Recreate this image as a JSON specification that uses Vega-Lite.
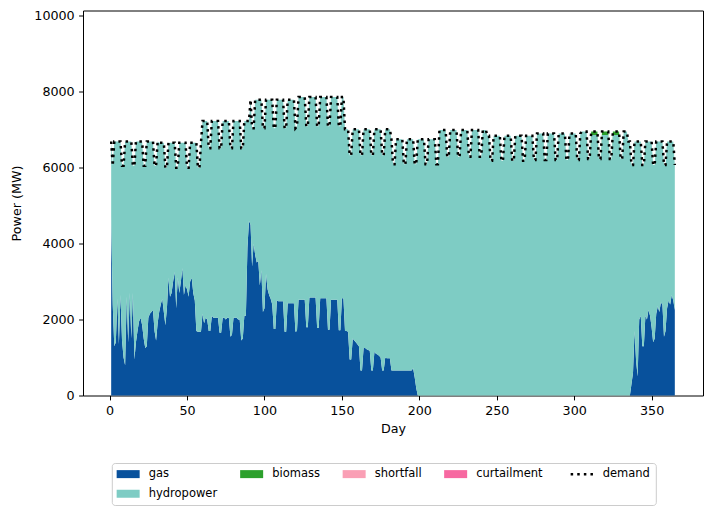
{
  "$schema": "https://vega.github.io/schema/vega-lite/v6.json",
  "width": 620,
  "height": 385,
  "autosize": {"type": "none"},
  "padding": {"left": 83, "top": 10.5, "right": 10, "bottom": 118.5},
  "background": "white",
  "config": {
    "font": "DejaVu Sans",
    "view": {"stroke": "black", "strokeWidth": 1},
    "axis": {
      "domain": false,
      "grid": false,
      "tickColor": "black",
      "tickSize": 4.4,
      "tickWidth": 1,
      "labelFont": "DejaVu Sans",
      "labelFontSize": 12.7,
      "labelColor": "black",
      "labelPadding": 4.4,
      "titleFont": "DejaVu Sans",
      "titleFontSize": 12.7,
      "titleFontWeight": "normal",
      "titleColor": "black"
    }
  },
  "datasets": {
    "energy": [
      {"day":1,"gas":4700,"hydropower":1990,"biomass":0,"demand":6690},
      {"day":2,"gas":2400,"hydropower":3650,"biomass":0,"demand":6050},
      {"day":3,"gas":1300,"hydropower":5390,"biomass":0,"demand":6690},
      {"day":4,"gas":1400,"hydropower":5290,"biomass":0,"demand":6690},
      {"day":5,"gas":2550,"hydropower":4140,"biomass":0,"demand":6690},
      {"day":6,"gas":1350,"hydropower":5340,"biomass":0,"demand":6690},
      {"day":7,"gas":2650,"hydropower":4040,"biomass":0,"demand":6690},
      {"day":8,"gas":1450,"hydropower":4600,"biomass":0,"demand":6050},
      {"day":9,"gas":1000,"hydropower":5050,"biomass":0,"demand":6050},
      {"day":10,"gas":800,"hydropower":5890,"biomass":0,"demand":6690},
      {"day":11,"gas":2600,"hydropower":4090,"biomass":0,"demand":6690},
      {"day":12,"gas":1400,"hydropower":5290,"biomass":0,"demand":6690},
      {"day":13,"gas":2700,"hydropower":3990,"biomass":0,"demand":6690},
      {"day":14,"gas":1500,"hydropower":5190,"biomass":0,"demand":6690},
      {"day":15,"gas":2700,"hydropower":3350,"biomass":0,"demand":6050},
      {"day":16,"gas":950,"hydropower":5100,"biomass":0,"demand":6050},
      {"day":17,"gas":1400,"hydropower":5290,"biomass":0,"demand":6690},
      {"day":18,"gas":1700,"hydropower":4990,"biomass":0,"demand":6690},
      {"day":19,"gas":1950,"hydropower":4740,"biomass":0,"demand":6690},
      {"day":20,"gas":2050,"hydropower":4640,"biomass":0,"demand":6690},
      {"day":21,"gas":1850,"hydropower":4840,"biomass":0,"demand":6690},
      {"day":22,"gas":1500,"hydropower":4550,"biomass":0,"demand":6050},
      {"day":23,"gas":1250,"hydropower":4800,"biomass":0,"demand":6050},
      {"day":24,"gas":1300,"hydropower":5390,"biomass":0,"demand":6690},
      {"day":25,"gas":2050,"hydropower":4640,"biomass":0,"demand":6690},
      {"day":26,"gas":2150,"hydropower":4540,"biomass":0,"demand":6690},
      {"day":27,"gas":2200,"hydropower":4490,"biomass":0,"demand":6690},
      {"day":28,"gas":2250,"hydropower":4440,"biomass":0,"demand":6690},
      {"day":29,"gas":1700,"hydropower":4350,"biomass":0,"demand":6050},
      {"day":30,"gas":1450,"hydropower":4600,"biomass":0,"demand":6050},
      {"day":31,"gas":1900,"hydropower":4790,"biomass":0,"demand":6690},
      {"day":32,"gas":2200,"hydropower":4460,"biomass":0,"demand":6660},
      {"day":33,"gas":2400,"hydropower":4260,"biomass":0,"demand":6660},
      {"day":34,"gas":2550,"hydropower":4110,"biomass":0,"demand":6660},
      {"day":35,"gas":2200,"hydropower":4460,"biomass":0,"demand":6660},
      {"day":36,"gas":1850,"hydropower":4150,"biomass":0,"demand":6000},
      {"day":37,"gas":2300,"hydropower":3700,"biomass":0,"demand":6000},
      {"day":38,"gas":3100,"hydropower":3560,"biomass":0,"demand":6660},
      {"day":39,"gas":2600,"hydropower":4060,"biomass":0,"demand":6660},
      {"day":40,"gas":2700,"hydropower":3960,"biomass":0,"demand":6660},
      {"day":41,"gas":3000,"hydropower":3660,"biomass":0,"demand":6660},
      {"day":42,"gas":3250,"hydropower":3410,"biomass":0,"demand":6660},
      {"day":43,"gas":2300,"hydropower":3700,"biomass":0,"demand":6000},
      {"day":44,"gas":3100,"hydropower":2900,"biomass":0,"demand":6000},
      {"day":45,"gas":2700,"hydropower":3960,"biomass":0,"demand":6660},
      {"day":46,"gas":3000,"hydropower":3660,"biomass":0,"demand":6660},
      {"day":47,"gas":3350,"hydropower":3310,"biomass":0,"demand":6660},
      {"day":48,"gas":2650,"hydropower":4010,"biomass":0,"demand":6660},
      {"day":49,"gas":2900,"hydropower":3760,"biomass":0,"demand":6660},
      {"day":50,"gas":2800,"hydropower":3200,"biomass":0,"demand":6000},
      {"day":51,"gas":2600,"hydropower":3400,"biomass":0,"demand":6000},
      {"day":52,"gas":3000,"hydropower":3660,"biomass":0,"demand":6660},
      {"day":53,"gas":3100,"hydropower":3560,"biomass":0,"demand":6660},
      {"day":54,"gas":2700,"hydropower":3960,"biomass":0,"demand":6660},
      {"day":55,"gas":2500,"hydropower":4160,"biomass":0,"demand":6660},
      {"day":56,"gas":1700,"hydropower":4960,"biomass":0,"demand":6660},
      {"day":57,"gas":1680,"hydropower":4320,"biomass":0,"demand":6000},
      {"day":58,"gas":1680,"hydropower":4320,"biomass":0,"demand":6000},
      {"day":59,"gas":1680,"hydropower":4980,"biomass":0,"demand":6660},
      {"day":60,"gas":2150,"hydropower":5080,"biomass":0,"demand":7230},
      {"day":61,"gas":1900,"hydropower":5330,"biomass":0,"demand":7230},
      {"day":62,"gas":2050,"hydropower":5180,"biomass":0,"demand":7230},
      {"day":63,"gas":2000,"hydropower":5230,"biomass":0,"demand":7230},
      {"day":64,"gas":1700,"hydropower":4810,"biomass":0,"demand":6510},
      {"day":65,"gas":1700,"hydropower":4810,"biomass":0,"demand":6510},
      {"day":66,"gas":2100,"hydropower":5130,"biomass":0,"demand":7230},
      {"day":67,"gas":2050,"hydropower":5180,"biomass":0,"demand":7230},
      {"day":68,"gas":2050,"hydropower":5180,"biomass":0,"demand":7230},
      {"day":69,"gas":2050,"hydropower":5180,"biomass":0,"demand":7230},
      {"day":70,"gas":2050,"hydropower":5180,"biomass":0,"demand":7230},
      {"day":71,"gas":1650,"hydropower":4860,"biomass":0,"demand":6510},
      {"day":72,"gas":1650,"hydropower":4860,"biomass":0,"demand":6510},
      {"day":73,"gas":2050,"hydropower":5180,"biomass":0,"demand":7230},
      {"day":74,"gas":2050,"hydropower":5180,"biomass":0,"demand":7230},
      {"day":75,"gas":2000,"hydropower":5230,"biomass":0,"demand":7230},
      {"day":76,"gas":2050,"hydropower":5180,"biomass":0,"demand":7230},
      {"day":77,"gas":2050,"hydropower":5180,"biomass":0,"demand":7230},
      {"day":78,"gas":1550,"hydropower":4960,"biomass":0,"demand":6510},
      {"day":79,"gas":1600,"hydropower":4910,"biomass":0,"demand":6510},
      {"day":80,"gas":2050,"hydropower":5180,"biomass":0,"demand":7230},
      {"day":81,"gas":2050,"hydropower":5180,"biomass":0,"demand":7230},
      {"day":82,"gas":2050,"hydropower":5180,"biomass":0,"demand":7230},
      {"day":83,"gas":2000,"hydropower":5230,"biomass":0,"demand":7230},
      {"day":84,"gas":2000,"hydropower":5230,"biomass":0,"demand":7230},
      {"day":85,"gas":1450,"hydropower":5060,"biomass":0,"demand":6510},
      {"day":86,"gas":1500,"hydropower":5010,"biomass":0,"demand":6510},
      {"day":87,"gas":2100,"hydropower":5130,"biomass":0,"demand":7230},
      {"day":88,"gas":2100,"hydropower":5130,"biomass":0,"demand":7230},
      {"day":89,"gas":3900,"hydropower":3330,"biomass":0,"demand":7230},
      {"day":90,"gas":4600,"hydropower":2630,"biomass":0,"demand":7230},
      {"day":91,"gas":4500,"hydropower":3290,"biomass":0,"demand":7790},
      {"day":92,"gas":3400,"hydropower":3640,"biomass":0,"demand":7040},
      {"day":93,"gas":4000,"hydropower":3040,"biomass":0,"demand":7040},
      {"day":94,"gas":3700,"hydropower":4090,"biomass":0,"demand":7790},
      {"day":95,"gas":3500,"hydropower":4290,"biomass":0,"demand":7790},
      {"day":96,"gas":3550,"hydropower":4240,"biomass":0,"demand":7790},
      {"day":97,"gas":2900,"hydropower":4890,"biomass":0,"demand":7790},
      {"day":98,"gas":3300,"hydropower":4490,"biomass":0,"demand":7790},
      {"day":99,"gas":2200,"hydropower":4840,"biomass":0,"demand":7040},
      {"day":100,"gas":2300,"hydropower":4740,"biomass":0,"demand":7040},
      {"day":101,"gas":3200,"hydropower":4590,"biomass":0,"demand":7790},
      {"day":102,"gas":2800,"hydropower":4990,"biomass":0,"demand":7790},
      {"day":103,"gas":2650,"hydropower":5140,"biomass":0,"demand":7790},
      {"day":104,"gas":2550,"hydropower":5240,"biomass":0,"demand":7790},
      {"day":105,"gas":2400,"hydropower":5390,"biomass":0,"demand":7790},
      {"day":106,"gas":1750,"hydropower":5290,"biomass":0,"demand":7040},
      {"day":107,"gas":1750,"hydropower":5290,"biomass":0,"demand":7040},
      {"day":108,"gas":2500,"hydropower":5290,"biomass":0,"demand":7790},
      {"day":109,"gas":2480,"hydropower":5310,"biomass":0,"demand":7790},
      {"day":110,"gas":2480,"hydropower":5310,"biomass":0,"demand":7790},
      {"day":111,"gas":2480,"hydropower":5310,"biomass":0,"demand":7790},
      {"day":112,"gas":2480,"hydropower":5310,"biomass":0,"demand":7790},
      {"day":113,"gas":1680,"hydropower":5360,"biomass":0,"demand":7040},
      {"day":114,"gas":1680,"hydropower":5360,"biomass":0,"demand":7040},
      {"day":115,"gas":2430,"hydropower":5360,"biomass":0,"demand":7790},
      {"day":116,"gas":2430,"hydropower":5360,"biomass":0,"demand":7790},
      {"day":117,"gas":2430,"hydropower":5360,"biomass":0,"demand":7790},
      {"day":118,"gas":2430,"hydropower":5360,"biomass":0,"demand":7790},
      {"day":119,"gas":2430,"hydropower":5360,"biomass":0,"demand":7790},
      {"day":120,"gas":1680,"hydropower":5360,"biomass":0,"demand":7040},
      {"day":121,"gas":1700,"hydropower":5390,"biomass":0,"demand":7090},
      {"day":122,"gas":2520,"hydropower":5340,"biomass":0,"demand":7860},
      {"day":123,"gas":2520,"hydropower":5340,"biomass":0,"demand":7860},
      {"day":124,"gas":2520,"hydropower":5340,"biomass":0,"demand":7860},
      {"day":125,"gas":2520,"hydropower":5340,"biomass":0,"demand":7860},
      {"day":126,"gas":2520,"hydropower":5340,"biomass":0,"demand":7860},
      {"day":127,"gas":1800,"hydropower":5290,"biomass":0,"demand":7090},
      {"day":128,"gas":1800,"hydropower":5290,"biomass":0,"demand":7090},
      {"day":129,"gas":2580,"hydropower":5280,"biomass":0,"demand":7860},
      {"day":130,"gas":2580,"hydropower":5280,"biomass":0,"demand":7860},
      {"day":131,"gas":2580,"hydropower":5280,"biomass":0,"demand":7860},
      {"day":132,"gas":2580,"hydropower":5280,"biomass":0,"demand":7860},
      {"day":133,"gas":2580,"hydropower":5280,"biomass":0,"demand":7860},
      {"day":134,"gas":1780,"hydropower":5310,"biomass":0,"demand":7090},
      {"day":135,"gas":1780,"hydropower":5310,"biomass":0,"demand":7090},
      {"day":136,"gas":2560,"hydropower":5300,"biomass":0,"demand":7860},
      {"day":137,"gas":2560,"hydropower":5300,"biomass":0,"demand":7860},
      {"day":138,"gas":2560,"hydropower":5300,"biomass":0,"demand":7860},
      {"day":139,"gas":2560,"hydropower":5300,"biomass":0,"demand":7860},
      {"day":140,"gas":2560,"hydropower":5300,"biomass":0,"demand":7860},
      {"day":141,"gas":1730,"hydropower":5360,"biomass":0,"demand":7090},
      {"day":142,"gas":1730,"hydropower":5360,"biomass":0,"demand":7090},
      {"day":143,"gas":2520,"hydropower":5340,"biomass":0,"demand":7860},
      {"day":144,"gas":2520,"hydropower":5340,"biomass":0,"demand":7860},
      {"day":145,"gas":2520,"hydropower":5340,"biomass":0,"demand":7860},
      {"day":146,"gas":2520,"hydropower":5340,"biomass":0,"demand":7860},
      {"day":147,"gas":2520,"hydropower":5340,"biomass":0,"demand":7860},
      {"day":148,"gas":1720,"hydropower":5370,"biomass":0,"demand":7090},
      {"day":149,"gas":1720,"hydropower":5370,"biomass":0,"demand":7090},
      {"day":150,"gas":2560,"hydropower":5300,"biomass":0,"demand":7860},
      {"day":151,"gas":2560,"hydropower":5300,"biomass":0,"demand":7860},
      {"day":152,"gas":1700,"hydropower":5310,"biomass":0,"demand":7010},
      {"day":153,"gas":1700,"hydropower":5310,"biomass":0,"demand":7010},
      {"day":154,"gas":1680,"hydropower":5330,"biomass":0,"demand":7010},
      {"day":155,"gas":950,"hydropower":5380,"biomass":0,"demand":6330},
      {"day":156,"gas":950,"hydropower":5380,"biomass":0,"demand":6330},
      {"day":157,"gas":1500,"hydropower":5510,"biomass":0,"demand":7010},
      {"day":158,"gas":1450,"hydropower":5560,"biomass":0,"demand":7010},
      {"day":159,"gas":1400,"hydropower":5610,"biomass":0,"demand":7010},
      {"day":160,"gas":1350,"hydropower":5660,"biomass":0,"demand":7010},
      {"day":161,"gas":1300,"hydropower":5710,"biomass":0,"demand":7010},
      {"day":162,"gas":660,"hydropower":5670,"biomass":0,"demand":6330},
      {"day":163,"gas":660,"hydropower":5670,"biomass":0,"demand":6330},
      {"day":164,"gas":1250,"hydropower":5760,"biomass":0,"demand":7010},
      {"day":165,"gas":1250,"hydropower":5760,"biomass":0,"demand":7010},
      {"day":166,"gas":1220,"hydropower":5790,"biomass":0,"demand":7010},
      {"day":167,"gas":1200,"hydropower":5810,"biomass":0,"demand":7010},
      {"day":168,"gas":1180,"hydropower":5830,"biomass":0,"demand":7010},
      {"day":169,"gas":660,"hydropower":5670,"biomass":0,"demand":6330},
      {"day":170,"gas":660,"hydropower":5670,"biomass":0,"demand":6330},
      {"day":171,"gas":1150,"hydropower":5860,"biomass":0,"demand":7010},
      {"day":172,"gas":1100,"hydropower":5910,"biomass":0,"demand":7010},
      {"day":173,"gas":1080,"hydropower":5930,"biomass":0,"demand":7010},
      {"day":174,"gas":1050,"hydropower":5960,"biomass":0,"demand":7010},
      {"day":175,"gas":1000,"hydropower":6010,"biomass":0,"demand":7010},
      {"day":176,"gas":660,"hydropower":5670,"biomass":0,"demand":6330},
      {"day":177,"gas":660,"hydropower":5670,"biomass":0,"demand":6330},
      {"day":178,"gas":1000,"hydropower":6010,"biomass":0,"demand":7010},
      {"day":179,"gas":980,"hydropower":6030,"biomass":0,"demand":7010},
      {"day":180,"gas":980,"hydropower":6030,"biomass":0,"demand":7010},
      {"day":181,"gas":980,"hydropower":6030,"biomass":0,"demand":7010},
      {"day":182,"gas":660,"hydropower":6090,"biomass":0,"demand":6750},
      {"day":183,"gas":660,"hydropower":5430,"biomass":0,"demand":6090},
      {"day":184,"gas":660,"hydropower":5430,"biomass":0,"demand":6090},
      {"day":185,"gas":660,"hydropower":6090,"biomass":0,"demand":6750},
      {"day":186,"gas":660,"hydropower":6090,"biomass":0,"demand":6750},
      {"day":187,"gas":660,"hydropower":6090,"biomass":0,"demand":6750},
      {"day":188,"gas":660,"hydropower":6090,"biomass":0,"demand":6750},
      {"day":189,"gas":660,"hydropower":6090,"biomass":0,"demand":6750},
      {"day":190,"gas":660,"hydropower":5430,"biomass":0,"demand":6090},
      {"day":191,"gas":660,"hydropower":5430,"biomass":0,"demand":6090},
      {"day":192,"gas":660,"hydropower":6090,"biomass":0,"demand":6750},
      {"day":193,"gas":660,"hydropower":6090,"biomass":0,"demand":6750},
      {"day":194,"gas":660,"hydropower":6090,"biomass":0,"demand":6750},
      {"day":195,"gas":660,"hydropower":6090,"biomass":0,"demand":6750},
      {"day":196,"gas":720,"hydropower":6030,"biomass":0,"demand":6750},
      {"day":197,"gas":480,"hydropower":5610,"biomass":0,"demand":6090},
      {"day":198,"gas":200,"hydropower":5890,"biomass":0,"demand":6090},
      {"day":199,"gas":0,"hydropower":6750,"biomass":0,"demand":6750},
      {"day":200,"gas":0,"hydropower":6750,"biomass":0,"demand":6750},
      {"day":201,"gas":0,"hydropower":6750,"biomass":0,"demand":6750},
      {"day":202,"gas":0,"hydropower":6750,"biomass":0,"demand":6750},
      {"day":203,"gas":0,"hydropower":6750,"biomass":0,"demand":6750},
      {"day":204,"gas":0,"hydropower":6090,"biomass":0,"demand":6090},
      {"day":205,"gas":0,"hydropower":6090,"biomass":0,"demand":6090},
      {"day":206,"gas":0,"hydropower":6750,"biomass":0,"demand":6750},
      {"day":207,"gas":0,"hydropower":6750,"biomass":0,"demand":6750},
      {"day":208,"gas":0,"hydropower":6750,"biomass":0,"demand":6750},
      {"day":209,"gas":0,"hydropower":6750,"biomass":0,"demand":6750},
      {"day":210,"gas":0,"hydropower":6750,"biomass":0,"demand":6750},
      {"day":211,"gas":0,"hydropower":6090,"biomass":0,"demand":6090},
      {"day":212,"gas":0,"hydropower":6090,"biomass":0,"demand":6090},
      {"day":213,"gas":0,"hydropower":6990,"biomass":0,"demand":6990},
      {"day":214,"gas":0,"hydropower":6990,"biomass":0,"demand":6990},
      {"day":215,"gas":0,"hydropower":6990,"biomass":0,"demand":6990},
      {"day":216,"gas":0,"hydropower":6990,"biomass":0,"demand":6990},
      {"day":217,"gas":0,"hydropower":6990,"biomass":0,"demand":6990},
      {"day":218,"gas":0,"hydropower":6290,"biomass":0,"demand":6290},
      {"day":219,"gas":0,"hydropower":6290,"biomass":0,"demand":6290},
      {"day":220,"gas":0,"hydropower":6990,"biomass":0,"demand":6990},
      {"day":221,"gas":0,"hydropower":6990,"biomass":0,"demand":6990},
      {"day":222,"gas":0,"hydropower":6990,"biomass":0,"demand":6990},
      {"day":223,"gas":0,"hydropower":6990,"biomass":0,"demand":6990},
      {"day":224,"gas":0,"hydropower":6990,"biomass":0,"demand":6990},
      {"day":225,"gas":0,"hydropower":6290,"biomass":0,"demand":6290},
      {"day":226,"gas":0,"hydropower":6290,"biomass":0,"demand":6290},
      {"day":227,"gas":0,"hydropower":6990,"biomass":0,"demand":6990},
      {"day":228,"gas":0,"hydropower":6990,"biomass":0,"demand":6990},
      {"day":229,"gas":0,"hydropower":6990,"biomass":0,"demand":6990},
      {"day":230,"gas":0,"hydropower":6990,"biomass":0,"demand":6990},
      {"day":231,"gas":0,"hydropower":6990,"biomass":0,"demand":6990},
      {"day":232,"gas":0,"hydropower":6290,"biomass":0,"demand":6290},
      {"day":233,"gas":0,"hydropower":6290,"biomass":0,"demand":6290},
      {"day":234,"gas":0,"hydropower":6990,"biomass":0,"demand":6990},
      {"day":235,"gas":0,"hydropower":6990,"biomass":0,"demand":6990},
      {"day":236,"gas":0,"hydropower":6990,"biomass":0,"demand":6990},
      {"day":237,"gas":0,"hydropower":6990,"biomass":0,"demand":6990},
      {"day":238,"gas":0,"hydropower":6990,"biomass":0,"demand":6990},
      {"day":239,"gas":0,"hydropower":6290,"biomass":0,"demand":6290},
      {"day":240,"gas":0,"hydropower":6290,"biomass":0,"demand":6290},
      {"day":241,"gas":0,"hydropower":6990,"biomass":0,"demand":6990},
      {"day":242,"gas":0,"hydropower":6990,"biomass":0,"demand":6990},
      {"day":243,"gas":0,"hydropower":6990,"biomass":0,"demand":6990},
      {"day":244,"gas":0,"hydropower":6840,"biomass":0,"demand":6840},
      {"day":245,"gas":0,"hydropower":6840,"biomass":0,"demand":6840},
      {"day":246,"gas":0,"hydropower":6180,"biomass":0,"demand":6180},
      {"day":247,"gas":0,"hydropower":6180,"biomass":0,"demand":6180},
      {"day":248,"gas":0,"hydropower":6840,"biomass":0,"demand":6840},
      {"day":249,"gas":0,"hydropower":6840,"biomass":0,"demand":6840},
      {"day":250,"gas":0,"hydropower":6840,"biomass":0,"demand":6840},
      {"day":251,"gas":0,"hydropower":6840,"biomass":0,"demand":6840},
      {"day":252,"gas":0,"hydropower":6840,"biomass":0,"demand":6840},
      {"day":253,"gas":0,"hydropower":6180,"biomass":0,"demand":6180},
      {"day":254,"gas":0,"hydropower":6180,"biomass":0,"demand":6180},
      {"day":255,"gas":0,"hydropower":6840,"biomass":0,"demand":6840},
      {"day":256,"gas":0,"hydropower":6840,"biomass":0,"demand":6840},
      {"day":257,"gas":0,"hydropower":6840,"biomass":0,"demand":6840},
      {"day":258,"gas":0,"hydropower":6840,"biomass":0,"demand":6840},
      {"day":259,"gas":0,"hydropower":6840,"biomass":0,"demand":6840},
      {"day":260,"gas":0,"hydropower":6180,"biomass":0,"demand":6180},
      {"day":261,"gas":0,"hydropower":6180,"biomass":0,"demand":6180},
      {"day":262,"gas":0,"hydropower":6840,"biomass":0,"demand":6840},
      {"day":263,"gas":0,"hydropower":6840,"biomass":0,"demand":6840},
      {"day":264,"gas":0,"hydropower":6840,"biomass":0,"demand":6840},
      {"day":265,"gas":0,"hydropower":6840,"biomass":0,"demand":6840},
      {"day":266,"gas":0,"hydropower":6840,"biomass":0,"demand":6840},
      {"day":267,"gas":0,"hydropower":6180,"biomass":0,"demand":6180},
      {"day":268,"gas":0,"hydropower":6180,"biomass":0,"demand":6180},
      {"day":269,"gas":0,"hydropower":6840,"biomass":0,"demand":6840},
      {"day":270,"gas":0,"hydropower":6840,"biomass":0,"demand":6840},
      {"day":271,"gas":0,"hydropower":6840,"biomass":0,"demand":6840},
      {"day":272,"gas":0,"hydropower":6840,"biomass":0,"demand":6840},
      {"day":273,"gas":0,"hydropower":6840,"biomass":0,"demand":6840},
      {"day":274,"gas":0,"hydropower":6200,"biomass":0,"demand":6200},
      {"day":275,"gas":0,"hydropower":6200,"biomass":0,"demand":6200},
      {"day":276,"gas":0,"hydropower":6900,"biomass":0,"demand":6900},
      {"day":277,"gas":0,"hydropower":6900,"biomass":0,"demand":6900},
      {"day":278,"gas":0,"hydropower":6900,"biomass":0,"demand":6900},
      {"day":279,"gas":0,"hydropower":6900,"biomass":0,"demand":6900},
      {"day":280,"gas":0,"hydropower":6900,"biomass":0,"demand":6900},
      {"day":281,"gas":0,"hydropower":6200,"biomass":0,"demand":6200},
      {"day":282,"gas":0,"hydropower":6200,"biomass":0,"demand":6200},
      {"day":283,"gas":0,"hydropower":6900,"biomass":0,"demand":6900},
      {"day":284,"gas":0,"hydropower":6900,"biomass":0,"demand":6900},
      {"day":285,"gas":0,"hydropower":6900,"biomass":0,"demand":6900},
      {"day":286,"gas":0,"hydropower":6900,"biomass":0,"demand":6900},
      {"day":287,"gas":0,"hydropower":6900,"biomass":0,"demand":6900},
      {"day":288,"gas":0,"hydropower":6200,"biomass":0,"demand":6200},
      {"day":289,"gas":0,"hydropower":6200,"biomass":0,"demand":6200},
      {"day":290,"gas":0,"hydropower":6900,"biomass":0,"demand":6900},
      {"day":291,"gas":0,"hydropower":6900,"biomass":0,"demand":6900},
      {"day":292,"gas":0,"hydropower":6900,"biomass":0,"demand":6900},
      {"day":293,"gas":0,"hydropower":6900,"biomass":0,"demand":6900},
      {"day":294,"gas":0,"hydropower":6900,"biomass":0,"demand":6900},
      {"day":295,"gas":0,"hydropower":6200,"biomass":0,"demand":6200},
      {"day":296,"gas":0,"hydropower":6200,"biomass":0,"demand":6200},
      {"day":297,"gas":0,"hydropower":6900,"biomass":0,"demand":6900},
      {"day":298,"gas":0,"hydropower":6900,"biomass":0,"demand":6900},
      {"day":299,"gas":0,"hydropower":6900,"biomass":0,"demand":6900},
      {"day":300,"gas":0,"hydropower":6900,"biomass":0,"demand":6900},
      {"day":301,"gas":0,"hydropower":6900,"biomass":0,"demand":6900},
      {"day":302,"gas":0,"hydropower":6200,"biomass":0,"demand":6200},
      {"day":303,"gas":0,"hydropower":6200,"biomass":0,"demand":6200},
      {"day":304,"gas":0,"hydropower":6900,"biomass":0,"demand":6900},
      {"day":305,"gas":0,"hydropower":6950,"biomass":0,"demand":6950},
      {"day":306,"gas":0,"hydropower":6950,"biomass":0,"demand":6950},
      {"day":307,"gas":0,"hydropower":6950,"biomass":0,"demand":6950},
      {"day":308,"gas":0,"hydropower":6950,"biomass":0,"demand":6950},
      {"day":309,"gas":0,"hydropower":6230,"biomass":0,"demand":6230},
      {"day":310,"gas":0,"hydropower":6230,"biomass":0,"demand":6230},
      {"day":311,"gas":0,"hydropower":6860,"biomass":90,"demand":6950},
      {"day":312,"gas":0,"hydropower":6860,"biomass":90,"demand":6950},
      {"day":313,"gas":0,"hydropower":6860,"biomass":90,"demand":6950},
      {"day":314,"gas":0,"hydropower":6860,"biomass":90,"demand":6950},
      {"day":315,"gas":0,"hydropower":6860,"biomass":90,"demand":6950},
      {"day":316,"gas":0,"hydropower":6230,"biomass":0,"demand":6230},
      {"day":317,"gas":0,"hydropower":6230,"biomass":0,"demand":6230},
      {"day":318,"gas":0,"hydropower":6860,"biomass":90,"demand":6950},
      {"day":319,"gas":0,"hydropower":6860,"biomass":90,"demand":6950},
      {"day":320,"gas":0,"hydropower":6860,"biomass":90,"demand":6950},
      {"day":321,"gas":0,"hydropower":6860,"biomass":90,"demand":6950},
      {"day":322,"gas":0,"hydropower":6860,"biomass":90,"demand":6950},
      {"day":323,"gas":0,"hydropower":6230,"biomass":0,"demand":6230},
      {"day":324,"gas":0,"hydropower":6230,"biomass":0,"demand":6230},
      {"day":325,"gas":0,"hydropower":6860,"biomass":90,"demand":6950},
      {"day":326,"gas":0,"hydropower":6860,"biomass":90,"demand":6950},
      {"day":327,"gas":0,"hydropower":6860,"biomass":90,"demand":6950},
      {"day":328,"gas":0,"hydropower":6860,"biomass":90,"demand":6950},
      {"day":329,"gas":0,"hydropower":6860,"biomass":90,"demand":6950},
      {"day":330,"gas":0,"hydropower":6230,"biomass":0,"demand":6230},
      {"day":331,"gas":0,"hydropower":6230,"biomass":0,"demand":6230},
      {"day":332,"gas":0,"hydropower":6950,"biomass":0,"demand":6950},
      {"day":333,"gas":0,"hydropower":6950,"biomass":0,"demand":6950},
      {"day":334,"gas":0,"hydropower":6950,"biomass":0,"demand":6950},
      {"day":335,"gas":0,"hydropower":6690,"biomass":0,"demand":6690},
      {"day":336,"gas":0,"hydropower":6690,"biomass":0,"demand":6690},
      {"day":337,"gas":300,"hydropower":5770,"biomass":0,"demand":6070},
      {"day":338,"gas":600,"hydropower":5470,"biomass":0,"demand":6070},
      {"day":339,"gas":1700,"hydropower":4990,"biomass":0,"demand":6690},
      {"day":340,"gas":900,"hydropower":5790,"biomass":0,"demand":6690},
      {"day":341,"gas":500,"hydropower":6190,"biomass":0,"demand":6690},
      {"day":342,"gas":2000,"hydropower":4690,"biomass":0,"demand":6690},
      {"day":343,"gas":2100,"hydropower":4590,"biomass":0,"demand":6690},
      {"day":344,"gas":1300,"hydropower":4770,"biomass":0,"demand":6070},
      {"day":345,"gas":1300,"hydropower":4770,"biomass":0,"demand":6070},
      {"day":346,"gas":2100,"hydropower":4590,"biomass":0,"demand":6690},
      {"day":347,"gas":2000,"hydropower":4690,"biomass":0,"demand":6690},
      {"day":348,"gas":2250,"hydropower":4440,"biomass":0,"demand":6690},
      {"day":349,"gas":2100,"hydropower":4590,"biomass":0,"demand":6690},
      {"day":350,"gas":1800,"hydropower":4890,"biomass":0,"demand":6690},
      {"day":351,"gas":1400,"hydropower":4670,"biomass":0,"demand":6070},
      {"day":352,"gas":1500,"hydropower":4570,"biomass":0,"demand":6070},
      {"day":353,"gas":2150,"hydropower":4540,"biomass":0,"demand":6690},
      {"day":354,"gas":2350,"hydropower":4340,"biomass":0,"demand":6690},
      {"day":355,"gas":2200,"hydropower":4490,"biomass":0,"demand":6690},
      {"day":356,"gas":2450,"hydropower":4240,"biomass":0,"demand":6690},
      {"day":357,"gas":2400,"hydropower":4290,"biomass":0,"demand":6690},
      {"day":358,"gas":1550,"hydropower":4520,"biomass":0,"demand":6070},
      {"day":359,"gas":1700,"hydropower":4370,"biomass":0,"demand":6070},
      {"day":360,"gas":2300,"hydropower":4390,"biomass":0,"demand":6690},
      {"day":361,"gas":2500,"hydropower":4190,"biomass":0,"demand":6690},
      {"day":362,"gas":2400,"hydropower":4290,"biomass":0,"demand":6690},
      {"day":363,"gas":2650,"hydropower":4040,"biomass":0,"demand":6690},
      {"day":364,"gas":2500,"hydropower":4190,"biomass":0,"demand":6690},
      {"day":365,"gas":2250,"hydropower":3820,"biomass":0,"demand":6070}
    ],
    "stackOrder": [
      {"source": "gas", "rank": 1},
      {"source": "hydropower", "rank": 2},
      {"source": "biomass", "rank": 3}
    ]
  },
  "data": {"name": "energy"},
  "encoding": {
    "x": {
      "field": "day",
      "type": "quantitative",
      "scale": {"domain": [-17.2, 383.2], "nice": false, "zero": false},
      "axis": {"title": "Day", "values": [0, 50, 100, 150, 200, 250, 300, 350], "titlePadding": 5}
    }
  },
  "layer": [
    {
      "transform": [
        {"fold": ["gas", "hydropower", "biomass"], "as": ["source", "MW"]},
        {"lookup": "source", "from": {"data": {"name": "stackOrder"}, "key": "source", "fields": ["rank"]}}
      ],
      "mark": {"type": "area", "interpolate": "linear", "opacity": 1},
      "encoding": {
        "y": {
          "field": "MW",
          "type": "quantitative",
          "stack": "zero",
          "scale": {"domain": [0, 10140], "nice": false},
          "axis": {"title": "Power (MW)", "values": [0, 2000, 4000, 6000, 8000, 10000], "format": "d", "titlePadding": 10}
        },
        "color": {
          "field": "source",
          "type": "nominal",
          "scale": {
            "domain": ["gas", "biomass", "shortfall", "curtailment", "demand", "hydropower"],
            "range": ["#08519c", "#2ca02c", "#fa9fb5", "#f768a1", "#000000", "#7eccc4"]
          },
          "legend": {
            "title": null,
            "orient": "none",
            "legendX": 28.8,
            "legendY": 452.5,
            "columns": 5,
            "direction": "horizontal",
            "gridAlign": "each",
            "columnPadding": 21.5,
            "rowPadding": 7,
            "padding": 5,
            "strokeColor": "#cccccc",
            "fillColor": "white",
            "cornerRadius": 3,
            "symbolType": "M-2.3,-0.8H2.3V0.8H-2.3Z",
            "symbolSize": 100,
            "symbolOffset": 5.6,
            "symbolStrokeWidth": 0,
            "symbolOpacity": 1,
            "labelOffset": 14.8,
            "labelFont": "DejaVu Sans",
            "labelFontSize": 11.5,
            "labelColor": "black",
            "labelLimit": 200,
            "encode": {
              "symbols": {
                "enter": {
                  "shape": {"signal": "datum.value === 'demand' ? 'M-2.3,0H2.3' : 'M-2.3,-0.8H2.3V0.8H-2.3Z'"}
                },
                "update": {
                  "shape": {"signal": "datum.value === 'demand' ? 'M-2.3,0H2.3' : 'M-2.3,-0.8H2.3V0.8H-2.3Z'"},
                  "fill": {"signal": "datum.value === 'demand' ? 'transparent' : scale('color', datum.value)"},
                  "stroke": {"signal": "datum.value === 'demand' ? 'black' : 'transparent'"},
                  "strokeDash": {"signal": "datum.value === 'demand' ? [2.5, 4.1] : [1, 0]"},
                  "strokeWidth": {"signal": "datum.value === 'demand' ? 2.5 : 0"},
                  "opacity": {"value": 1}
                }
              }
            }
          }
        },
        "order": {"field": "rank", "type": "quantitative"}
      }
    },
    {
      "mark": {"type": "line", "strokeDash": [2.5, 4.1], "strokeWidth": 2.5, "strokeCap": "butt"},
      "encoding": {
        "y": {"field": "demand", "type": "quantitative"},
        "color": {"datum": "demand"}
      }
    }
  ]
}
